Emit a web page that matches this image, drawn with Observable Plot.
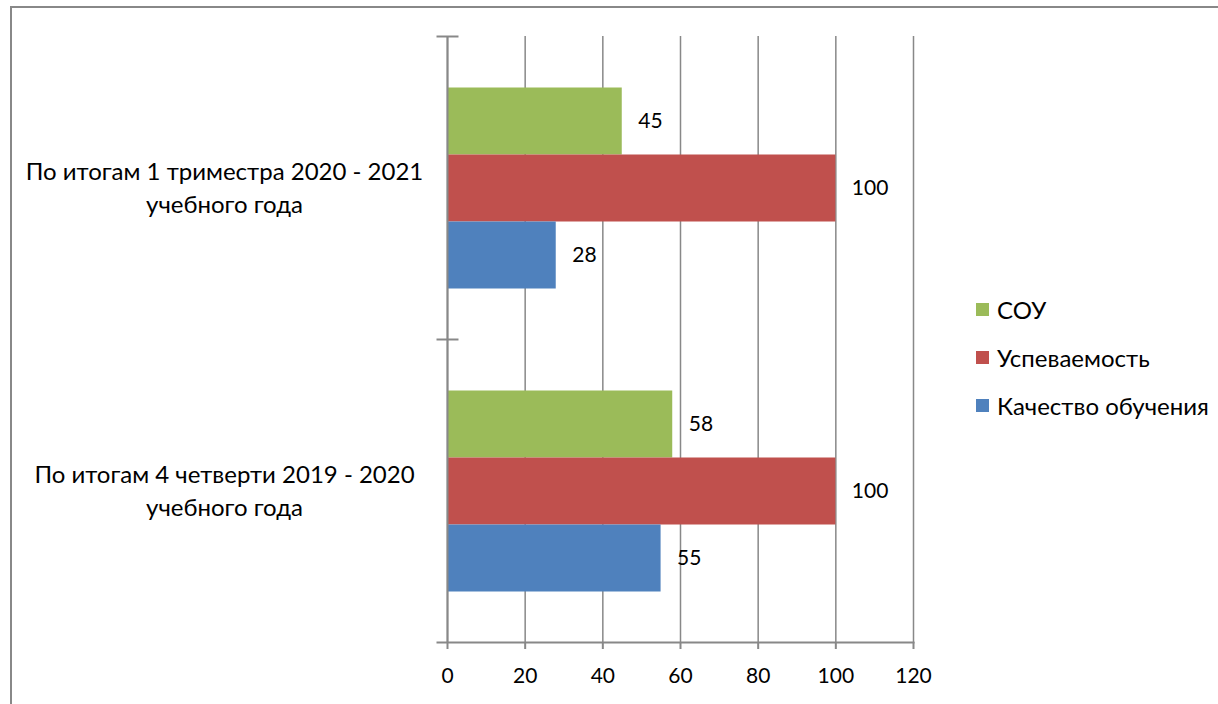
<!DOCTYPE html>
<html><head><meta charset="utf-8">
<script src="https://cdn.jsdelivr.net/npm/d3@7"></script>
<script src="https://cdn.jsdelivr.net/npm/@observablehq/plot@0.6"></script>
<style>
html,body{margin:0;padding:0;background:#fff;overflow:hidden;}
#wrap{position:relative;width:1218px;height:704px;font-family:Lato, sans-serif;}
#border{position:absolute;left:10px;top:6px;width:1300px;height:800px;border-left:2px solid #888;border-top:2px solid #888;}
#chart{position:absolute;left:0;top:0;}
#legend{position:absolute;left:976px;top:285px;font-size:24px;color:#000;}
.row{display:flex;align-items:center;height:48px;white-space:nowrap;}
.sw{width:13px;height:13px;margin-right:8px;flex:none;}
</style></head>
<body><div id="wrap"><div id="border"></div><div id="chart"></div><div id="legend"></div></div>
<script>
const categories = ["По итогам 1 триместра 2020 - 2021\nучебного года", "По итогам 4 четверти 2019 - 2020\nучебного года"];
const series = ["СОУ", "Успеваемость", "Качество обучения"];
const colors = ["#9BBB59", "#C0504D", "#4F81BD"];
const sou = [45, 58];
const uspev = [100, 100];
const kach = [28, 55];
const xTicks = [0, 20, 40, 60, 80, 100, 120];

const values = [sou, uspev, kach];
const data = [];
categories.forEach((c, i) => series.forEach((s, j) => data.push({category: c, series: s, value: values[j][i]})));

const gray = "#888";
const plot = Plot.plot({
  width: 1218, height: 704,
  marginLeft: 447, marginRight: 305, marginTop: 35.5, marginBottom: 62,
  style: {fontFamily: "Lato, sans-serif", fontSize: "21px", color: "#000", background: "transparent"},
  x: {domain: [0, 120], ticks: xTicks},
  y: {domain: series, paddingInner: 0, paddingOuter: 0.73, axis: null},
  fy: {domain: categories, padding: 0},
  color: {domain: series, range: colors},
  marks: [
    Plot.gridX(xTicks, {stroke: gray, strokeOpacity: 1, strokeWidth: 1.5}),
    Plot.barX(data, {x: "value", y: "series", fy: "category", fill: "series"}),
    Plot.text(data, {x: "value", y: "series", fy: "category", text: d => String(d.value), textAnchor: "start", dx: 16, fill: "#000", fontSize: 21}),
    Plot.ruleX([0], {stroke: gray, strokeWidth: 2}),
    Plot.frame({anchor: "top", stroke: gray, strokeWidth: 2, insetLeft: -10, insetRight: 456}),
    Plot.frame({anchor: "bottom", facetAnchor: "bottom", stroke: gray, strokeWidth: 2, insetLeft: -10}),
    Plot.axisX(xTicks, {anchor: "bottom", tickSize: 7, tickPadding: 19, stroke: gray, strokeWidth: 2, fontSize: 21, label: null}),
    Plot.axisFy({anchor: "left", tickSize: 0, tickPadding: 0, textAnchor: "middle", dx: -223, dy: -2, fontSize: 24, lineHeight: 1.35, label: null})
  ]
});
document.getElementById("chart").appendChild(plot);

const legend = document.getElementById("legend");
series.forEach((s, j) => {
  const row = document.createElement("div");
  row.className = "row";
  const sw = document.createElement("div");
  sw.className = "sw";
  sw.style.background = colors[j];
  const t = document.createElement("span");
  t.textContent = s;
  row.appendChild(sw);
  row.appendChild(t);
  legend.appendChild(row);
});
</script>
</body></html>
